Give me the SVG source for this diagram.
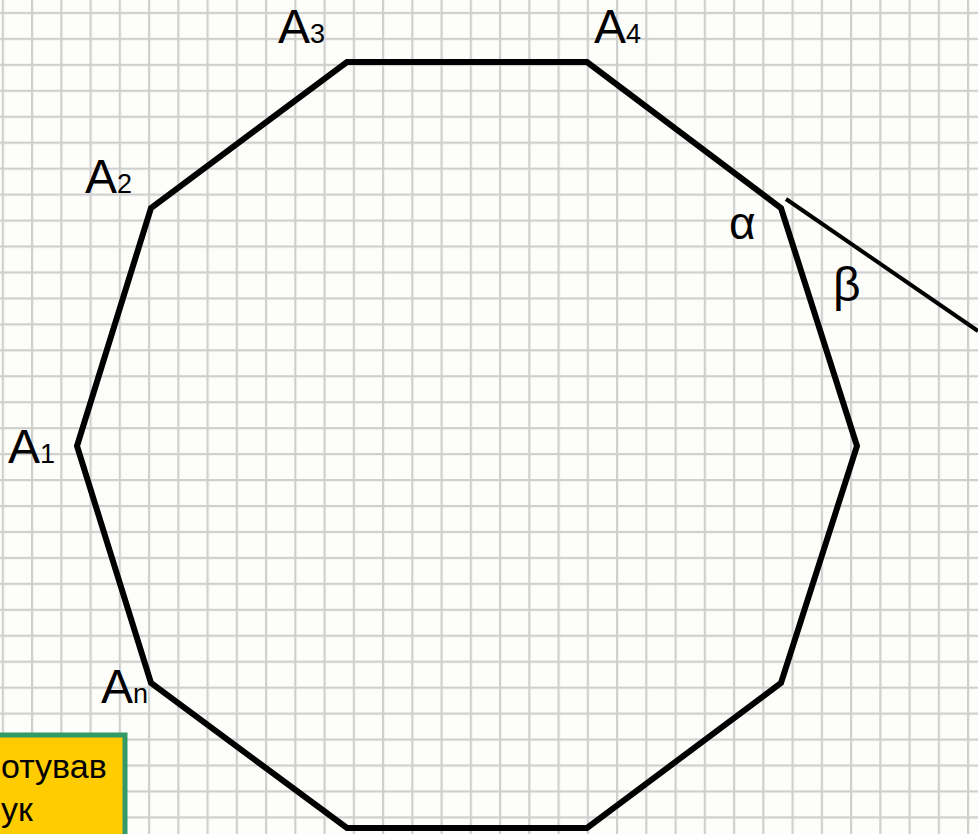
<svg xmlns="http://www.w3.org/2000/svg" width="978" height="834" viewBox="0 0 978 834">
<defs>
<pattern id="grid" patternUnits="userSpaceOnUse" x="1.75" y="11.9" width="29.25" height="25.95">
<rect x="0" y="0" width="2.2" height="25.95" fill="#cfcfcf"/>
<rect x="0" y="0" width="29.25" height="2.2" fill="#cfcfcf"/>
</pattern>
</defs>
<style>
.lbl{font-family:"Liberation Sans",Arial,sans-serif;font-size:48px;fill:#000}
.sub{font-size:27px}
.greek{font-family:"Liberation Sans",Arial,sans-serif;fill:#000}
.edge{fill:none;stroke:#000;stroke-width:6;stroke-linejoin:miter}
.note{font-family:"Liberation Sans",Arial,sans-serif;font-size:34px;fill:#000}
</style>
<rect width="978" height="834" fill="#fdfdfa"/>
<rect width="978" height="834" fill="url(#grid)"/>
<g id="connectors">
<polygon id="decagon" class="edge" points="77,446 151,208 347,62 587,62 781,208 857,446 781,683 587,828 347,828 151,683"/>
<line id="extension" x1="786" y1="199" x2="978" y2="331" stroke="#000" stroke-width="4"/>
</g>
<g id="label-A1"><text class="lbl" x="8" y="463">A<tspan class="sub">1</tspan></text></g>
<g id="label-A2"><text class="lbl" x="85" y="193">A<tspan class="sub">2</tspan></text></g>
<g id="label-A3"><text class="lbl" x="278" y="43">A<tspan class="sub">3</tspan></text></g>
<g id="label-A4"><text class="lbl" x="594" y="43">A<tspan class="sub">4</tspan></text></g>
<g id="label-An"><text class="lbl" x="101" y="703">A<tspan class="sub">n</tspan></text></g>
<g id="label-alpha"><text class="greek" x="729" y="239" font-size="46">α</text></g>
<g id="label-beta"><text class="greek" x="833" y="301" font-size="48">β</text></g>
<g id="note">
<rect x="-10" y="735" width="135" height="120" fill="#ffcc00" stroke="#339966" stroke-width="5"/>
<text class="note" x="1" y="778">отував</text>
<text class="note" x="1" y="821">ук</text>
</g>
</svg>
